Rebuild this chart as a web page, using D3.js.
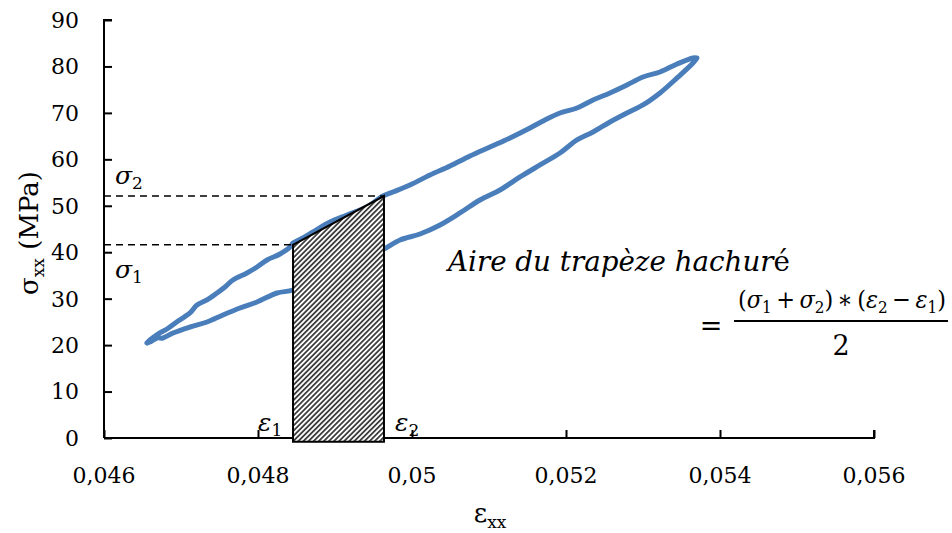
<!DOCTYPE html>
<html><head><meta charset="utf-8">
<script src="https://cdn.jsdelivr.net/npm/d3@7"></script>
<style>
html,body{margin:0;padding:0;background:#fff;}
svg{display:block;}
text{font-family:"DejaVu Serif","Liberation Serif",serif;fill:#000;}
</style></head>
<body><svg id="chart" width="952" height="533"></svg>
<script>
// ---- data ----
const strainUpper = [0.046558,0.046597,0.046701,0.046818,0.046961,0.047117,0.047208,0.047338,0.047468,0.047571,0.047675,0.047857,0.047987,0.048117,0.048286,0.048416,0.048455,0.048584,0.048714,0.048935,0.049156,0.049416,0.049623,0.049753,0.049974,0.050234,0.050494,0.050753,0.051013,0.051273,0.051532,0.051727,0.051922,0.052143,0.052351,0.052571,0.052792,0.053000,0.053221,0.053442,0.053649,0.053701];
const stressUpper = [20.46,21.10,22.39,23.47,25.19,26.92,28.64,29.72,31.22,32.52,34.02,35.53,36.82,38.33,39.62,41.13,41.99,43.07,44.36,46.51,48.02,49.74,52.11,52.97,54.48,56.63,58.57,60.72,62.66,64.60,66.75,68.48,69.98,71.06,72.78,74.29,76.01,77.73,78.81,80.53,81.83,81.83];
const strainLower = [0.053701,0.053649,0.053442,0.053221,0.053000,0.052792,0.052571,0.052351,0.052143,0.051922,0.051662,0.051403,0.051143,0.050883,0.050623,0.050364,0.050104,0.049844,0.049636,0.049455,0.049195,0.048935,0.048675,0.048455,0.048247,0.047987,0.047766,0.047545,0.047338,0.047117,0.046896,0.046766,0.046688,0.046597,0.046558];
const stressLower = [81.83,80.75,77.52,74.29,71.71,69.98,68.04,65.89,64.17,61.37,58.79,56.20,53.40,51.25,48.45,45.87,43.93,42.64,40.70,39.41,37.68,36.18,34.02,31.87,31.22,29.29,27.99,26.49,24.98,23.90,22.61,21.53,21.53,20.67,20.46];
const xTicks = [0.046,0.048,0.050,0.052,0.054,0.056];
const xTickLabels = ["0,046","0,048","0,05","0,052","0,054","0,056"];
const yTicks = [0,10,20,30,40,50,60,70,80,90];
const yTickLabels = ["0","10","20","30","40","50","60","70","80","90"];
const eps1 = 0.048455, eps2 = 0.049636;
const sig1 = 41.6, sig2 = 52.1;
const trapBase = -0.8;

// ---- drawing ----
const svg = d3.select("#chart");
const x = d3.scaleLinear().domain([0.046,0.056]).range([104,874]);
const y = d3.scaleLinear().domain([0,90]).range([438,20]);

const defs = svg.append("defs");
const pat = defs.append("pattern").attr("id","hatch").attr("patternUnits","userSpaceOnUse")
  .attr("width",3.6).attr("height",3.6).attr("patternTransform","rotate(45)");
pat.append("rect").attr("width",3.6).attr("height",3.6).attr("fill","#fff");
pat.append("line").attr("x1",0.9).attr("y1",0).attr("x2",0.9).attr("y2",3.6)
  .attr("stroke","#333").attr("stroke-width",1.7);

// curve (loop)
const loop = strainUpper.map((s,i)=>[s,stressUpper[i]])
  .concat(strainLower.map((s,i)=>[s,stressLower[i]]));
svg.append("path").datum(loop)
  .attr("d", d3.line().x(d=>x(d[0])).y(d=>y(d[1])).curve(d3.curveCatmullRom))
  .attr("fill","none").attr("stroke","#4a7ebb").attr("stroke-width",5)
  .attr("stroke-linejoin","round").attr("stroke-linecap","round");

// axes
const yAxis = d3.axisRight(y).tickValues(yTicks).tickSize(8).tickFormat("");
const gy = svg.append("g").attr("transform",`translate(${x(0.046)},0)`).call(yAxis);
gy.select(".domain").attr("d",`M8,${y(90)}H0V${y(0)}`);
const xAxis = d3.axisTop(x).tickValues(xTicks).tickSize(8).tickFormat("");
const gx = svg.append("g").attr("transform",`translate(0,${y(0)})`).call(xAxis);
gx.select(".domain").attr("d",`M${x(0.046)},0H${x(0.056)}V-8`);
svg.selectAll(".domain, .tick line").attr("stroke","#000").attr("stroke-width",2);

// tick labels
svg.append("g").selectAll("text").data(yTicks).join("text")
  .attr("x", x(0.046)-25).attr("y", d=>y(d)).attr("dy","0.36em")
  .attr("text-anchor","end").attr("font-size",22)
  .text((d,i)=>yTickLabels[i]);
svg.append("g").selectAll("text").data(xTicks).join("text")
  .attr("x", d=>x(d)).attr("y", y(0)+45)
  .attr("text-anchor","middle").attr("font-size",22)
  .text((d,i)=>xTickLabels[i]);

// axis titles
const yt = svg.append("text").attr("transform","translate(38,233) rotate(-90)")
  .attr("text-anchor","middle").attr("font-size",26);
yt.append("tspan").text("σ");
yt.append("tspan").attr("font-size",17).attr("dy",6).text("xx");
yt.append("tspan").attr("dy",-6).text(" (MPa)");
const xt = svg.append("text").attr("x",490).attr("y",522).attr("text-anchor","middle").attr("font-size",26);
xt.append("tspan").text("ε");
xt.append("tspan").attr("font-size",17).attr("dy",6).text("xx");

// dashed guides
svg.append("g").selectAll("line").data([[eps1,sig1],[eps2,sig2]]).join("line")
  .attr("x1",x(0.046)).attr("x2",d=>x(d[0])).attr("y1",d=>y(d[1])).attr("y2",d=>y(d[1]))
  .attr("stroke","#000").attr("stroke-width",1.5).attr("stroke-dasharray","7,5");

// trapezoid
const trap = [[eps1,trapBase],[eps1,sig1],[eps2,sig2],[eps2,trapBase]];
svg.append("path")
  .attr("d", d3.line().x(d=>x(d[0])).y(d=>y(d[1]))(trap)+"Z")
  .attr("fill","url(#hatch)").attr("stroke","#000").attr("stroke-width",2)
  .attr("stroke-linejoin","miter");

// symbol labels
function sym(letter, sub, px, py){
  const t = svg.append("text").attr("x",px).attr("y",py).attr("font-size",25);
  t.append("tspan").attr("font-style","italic").text(letter);
  t.append("tspan").attr("font-size",17).attr("dy",5).text(sub);
}
sym("σ","2", 115, 184);
sym("σ","1", 115, 278);
sym("ε","1", 258, 431);
sym("ε","2", 395, 431);

// fit a text horizontally between x0 and x1 at baseline yb
function fit(t, x0, x1, yb){
  const w = t.node().getComputedTextLength();
  t.attr("x",0).attr("y",0).attr("transform",`translate(${x0},${yb}) scale(${(x1-x0)/w},1)`);
}

// formula
const f1 = svg.append("text").attr("font-size",27);
f1.append("tspan").attr("font-style","italic").text("Aire du trapèze hachur");
f1.append("tspan").text("é");
fit(f1, 448, 790, 271);
svg.append("text").attr("x",711).attr("y",335).attr("text-anchor","middle").attr("font-size",27).text("=");
svg.append("line").attr("x1",734).attr("x2",948).attr("y1",321).attr("y2",321)
  .attr("stroke","#000").attr("stroke-width",2);
const num = svg.append("text").attr("font-size",25);
const T = "\u2009";
num.append("tspan").text("(");
num.append("tspan").attr("font-style","italic").text("σ");
num.append("tspan").attr("font-size",17).attr("dy",5).text("1");
num.append("tspan").attr("dy",-5).text(T+"+"+T);
num.append("tspan").attr("font-style","italic").text("σ");
num.append("tspan").attr("font-size",17).attr("dy",5).text("2");
num.append("tspan").attr("dy",-5).text(")"+T+"∗"+T+"(");
num.append("tspan").attr("font-style","italic").text("ε");
num.append("tspan").attr("font-size",17).attr("dy",5).text("2");
num.append("tspan").attr("dy",-5).text(T+"−"+T);
num.append("tspan").attr("font-style","italic").text("ε");
num.append("tspan").attr("font-size",17).attr("dy",5).text("1");
num.append("tspan").attr("dy",-5).text(")");
fit(num, 738, 946, 308);
svg.append("text").attr("x",841).attr("y",355).attr("text-anchor","middle").attr("font-size",27).text("2");
</script></body></html>
